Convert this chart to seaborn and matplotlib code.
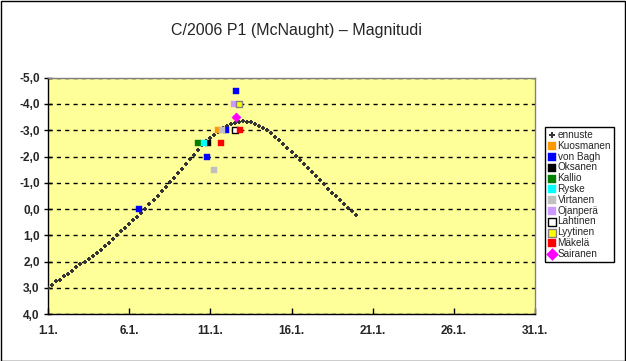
import matplotlib
matplotlib.use("Agg")
import matplotlib.pyplot as plt
import seaborn as sns
from matplotlib.ticker import FuncFormatter, MultipleLocator

# ennuste (forecast), quarter-day steps
ennuste_day = [
    1.0, 1.25, 1.5, 1.75, 2.0, 2.25, 2.5, 2.75, 3.0, 3.25, 3.5, 3.75,
    4.0, 4.25, 4.5, 4.75, 5.0, 5.25, 5.5, 5.75, 6.0, 6.25, 6.5, 6.75,
    7.0, 7.25, 7.5, 7.75, 8.0, 8.25, 8.5, 8.75, 9.0, 9.25, 9.5, 9.75,
    10.0, 10.25, 10.5, 10.75, 11.0, 11.25, 11.5, 11.75, 12.0, 12.25, 12.5, 12.75,
    13.0, 13.25, 13.5, 13.75, 14.0, 14.25, 14.5, 14.75, 15.0, 15.25, 15.5, 15.75,
    16.0, 16.25, 16.5, 16.75, 17.0, 17.25, 17.5, 17.75, 18.0, 18.25, 18.5, 18.75,
    19.0, 19.25, 19.5, 19.75, 20.0,
]
ennuste_mag = [
    3.0, 2.88, 2.75, 2.68, 2.56, 2.45, 2.34, 2.22, 2.10, 2.0, 1.88, 1.78,
    1.66, 1.54, 1.42, 1.29, 1.13, 0.99, 0.85, 0.71, 0.57, 0.43, 0.29, 0.14,
    -0.01, -0.20, -0.35, -0.50, -0.69, -0.84, -1.03, -1.19, -1.37, -1.53, -1.72, -1.90,
    -2.06, -2.25, -2.43, -2.58, -2.70, -2.82, -2.95, -3.07, -3.17, -3.23, -3.28, -3.32,
    -3.34, -3.32, -3.30, -3.23, -3.17, -3.09, -3.00, -2.89, -2.74, -2.62, -2.47, -2.32,
    -2.17, -2.02, -1.87, -1.72, -1.56, -1.41, -1.27, -1.09, -0.94, -0.78, -0.63, -0.50,
    -0.35, -0.20, -0.05, 0.07, 0.22,
]

# observations
kuosmanen_day = [11.46]
kuosmanen_mag = [-3.0]
vonbagh_day = [6.59, 10.80, 11.99, 12.58]
vonbagh_mag = [0.0, -2.0, -3.0, -4.5]
oksanen_day = [10.86]
oksanen_mag = [-2.5]
kallio_day = [10.26]
kallio_mag = [-2.5]
ryske_day = [10.59]
ryske_mag = [-2.5]
virtanen_day = [11.21, 11.72]
virtanen_mag = [-1.5, -3.0]
ojanpera_day = [12.48]
ojanpera_mag = [-4.0]
lahtinen_day = [12.54]
lahtinen_mag = [-3.0]
lyytinen_day = [12.75]
lyytinen_mag = [-4.0]
makela_day = [11.64, 12.83]
makela_mag = [-2.5, -3.0]
sairanen_day = [12.6]
sairanen_mag = [-3.5]

x_ticks = [1, 6, 11, 16, 21, 26, 31]

sns.set_style("white")
plt.rcParams['font.family'] = ['Liberation Sans', 'DejaVu Sans']

fig = plt.figure(figsize=(6.26, 3.61), dpi=100)
ax = fig.add_axes([48 / 626, 1 - 314.3 / 361, 487 / 626, (314.3 - 77.6) / 361])
ax.set_facecolor('#FFFF99')

sns.scatterplot(x=ennuste_day, y=ennuste_mag, ax=ax, marker='+', color='#333333',
                s=9, linewidth=1.4, label='ennuste', zorder=3)

# (name, days, mags, face, edge, marker, size)
observers = [
    ('Kuosmanen', kuosmanen_day, kuosmanen_mag, '#FF9900', '#FF9900', 's', 20),
    ('von Bagh', vonbagh_day, vonbagh_mag, '#0000FF', '#0000FF', 's', 20),
    ('Oksanen', oksanen_day, oksanen_mag, '#000000', '#000000', 's', 20),
    ('Kallio', kallio_day, kallio_mag, '#008000', '#008000', 's', 20),
    ('Ryske', ryske_day, ryske_mag, '#00FFFF', '#00FFFF', 's', 20),
    ('Virtanen', virtanen_day, virtanen_mag, '#C0C0C0', '#C0C0C0', 's', 20),
    ('Ojanperä', ojanpera_day, ojanpera_mag, '#CC99FF', '#CC99FF', 's', 20),
    ('Lahtinen', lahtinen_day, lahtinen_mag, '#FFFFFF', '#000000', 's', 20),
    ('Lyytinen', lyytinen_day, lyytinen_mag, '#FFFF00', '#808080', 's', 20),
    ('Mäkelä', makela_day, makela_mag, '#FF0000', '#FF0000', 's', 20),
    ('Sairanen', sairanen_day, sairanen_mag, '#FF00FF', '#FF00FF', 'D', 22),
]
for name, d, m, face, edge, mk, sz in observers:
    lw = 1.0 if edge != face else 0.3
    sns.scatterplot(x=d, y=m, ax=ax, marker=mk, color=face, edgecolor=edge,
                    linewidth=lw, s=sz, label=name, zorder=4)

ax.set_xlim(1, 31)
ax.set_ylim(4, -5)
ax.set_xticks(x_ticks)
ax.yaxis.set_major_locator(MultipleLocator(1))
ax.xaxis.set_major_formatter(FuncFormatter(lambda v, p: f"{int(round(v))}.1."))
ax.yaxis.set_major_formatter(FuncFormatter(lambda v, p: f"{v:.1f}".replace('.', ',').replace('−', '-')))

ax.yaxis.grid(True, color='black', linestyle=(0, (3, 3)), linewidth=1)
ax.xaxis.grid(False)
ax.set_axisbelow(True)

for s in ['left', 'bottom']:
    ax.spines[s].set_color('black')
    ax.spines[s].set_linewidth(1)
for s in ['top', 'right']:
    ax.spines[s].set_color('#808080')
    ax.spines[s].set_linewidth(1)

ax.tick_params(axis='y', direction='inout', length=6, width=1, color='black', pad=3,
               left=True, labelsize=8.5)
ax.tick_params(axis='x', direction='in', length=4, width=1, color='black', pad=8,
               bottom=True, labelsize=8.5)
for lab in ax.get_xticklabels() + ax.get_yticklabels():
    lab.set_fontweight('bold')

fig.text(296 / 626, 1 - 30 / 361, 'C/2006 P1 (McNaught) – Magnitudi',
         ha='center', va='center', fontsize=11.5)

leg = ax.legend(loc='upper left', bbox_to_anchor=(545 / 626, 1 - 127 / 361),
                bbox_transform=fig.transFigure, borderaxespad=0, fontsize=7.2,
                frameon=True, fancybox=False, edgecolor='black', framealpha=1,
                borderpad=0.3, handlelength=0.7, handletextpad=0.25,
                labelspacing=0.08, markerscale=1.3)
leg.get_frame().set_linewidth(1)

# chart area border
fig.add_artist(plt.Rectangle((0.5 / 626, 0.5 / 361), 1 - 1.5 / 626, 1 - 1.5 / 361,
                             transform=fig.transFigure, fill=False,
                             edgecolor='black', linewidth=1))

fig.savefig('out.png', dpi=100)
